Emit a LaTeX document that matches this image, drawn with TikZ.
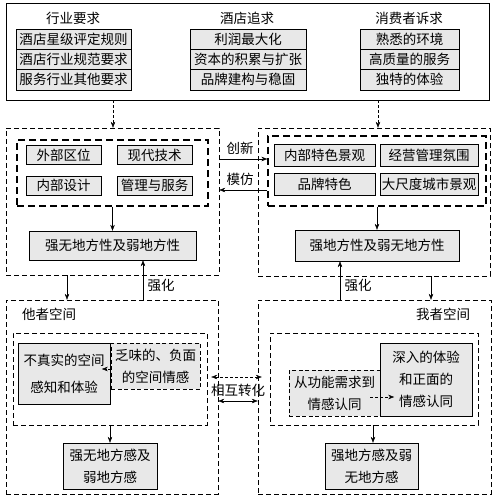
\documentclass[tikz,border=0pt]{standalone}
\usepackage{fontspec}
\setmainfont{Noto Sans CJK SC}
\usetikzlibrary{arrows.meta}

\begin{document}
\begin{tikzpicture}[x=1pt,y=1pt,font=\fontsize{13.5}{22}\selectfont,
      >={Stealth[length=6pt,width=4.5pt]},
      box/.style={draw,fill=black!9,inner sep=0pt,align=center},
      gbox/.style={draw,fill=black!9,inner sep=0pt,align=center,dash pattern=on 4pt off 2.5pt},
      frame/.style={draw,dash pattern=on 5pt off 3pt,inner sep=0pt},
      heavy/.style={draw,line width=1.3pt,dash pattern=on 7pt off 4pt,inner sep=0pt},
      lbl/.style={inner sep=0pt}]
    \useasboundingbox (0,0) rectangle (496,-497);
    % top block
    \node[draw,inner sep=0pt,minimum width=483,minimum height=97] (top) at (247.5,-51.5) {};
    \node[lbl] (t1) at (73,-18) {行业要求};
    \node[lbl] (t2) at (247,-18) {酒店追求};
    \node[lbl] (t3) at (409,-18) {消费者诉求};
    \node[box,minimum width=115,minimum height=20.3] (a1) at (73.5,-39) {酒店星级评定规则};
    \node[box,minimum width=115,minimum height=20.3] (a2) at (73.5,-59.3) {酒店行业规范要求};
    \node[box,minimum width=115,minimum height=20.3] (a3) at (73.5,-79.6) {服务行业其他要求};
    \node[box,minimum width=116,minimum height=20.3] (b1) at (248,-39) {利润最大化};
    \node[box,minimum width=116,minimum height=20.3] (b2) at (248,-59.3) {资本的积累与扩张};
    \node[box,minimum width=116,minimum height=20.3] (b3) at (248,-79.6) {品牌建构与稳固};
    \node[box,minimum width=99,minimum height=20.3] (c1) at (409.5,-39) {熟悉的环境};
    \node[box,minimum width=99,minimum height=20.3] (c2) at (409.5,-59.3) {高质量的服务};
    \node[box,minimum width=99,minimum height=20.3] (c3) at (409.5,-79.6) {独特的体验};
    % middle blocks
    \node[frame,minimum width=213,minimum height=147] (lmid) at (112.5,-201.5) {};
    \node[heavy,minimum width=191,minimum height=66] (lin) at (112.5,-173) {};
    \node[box,minimum width=75,minimum height=19] (l1) at (63.5,-155) {外部区位};
    \node[box,minimum width=75,minimum height=19] (l2) at (154.5,-155) {现代技术};
    \node[box,minimum width=75,minimum height=19] (l3) at (63.5,-185.5) {内部设计};
    \node[box,minimum width=75,minimum height=19] (l4) at (154.5,-185.5) {管理与服务};
    \node[box,minimum width=167,minimum height=29] (lstr) at (112.5,-245.5) {强无地方性及弱地方性};
    \node[frame,minimum width=232,minimum height=148] (rmid) at (374,-202) {};
    \node[heavy,minimum width=218,minimum height=70] (rin) at (377,-171) {};
    \node[box,minimum width=101,minimum height=22] (r1) at (324.5,-155) {内部特色景观};
    \node[box,minimum width=98,minimum height=22] (r2) at (429,-155) {经营管理氛围};
    \node[box,minimum width=101,minimum height=22] (r3) at (324.5,-184) {品牌特色};
    \node[box,minimum width=98,minimum height=22] (r4) at (429,-184) {大尺度城市景观};
    \node[box,minimum width=164,minimum height=31] (rstr) at (377,-245.5) {强地方性及弱无地方性};
    % bottom blocks
    \node[frame,minimum width=212,minimum height=194] (lbot) at (112,-397) {};
    \node[lbl] (lt) at (49,-314) {他者空间};
    \node[frame,minimum width=194,minimum height=92] (lbin) at (110,-379) {};
    \node[gbox,minimum width=89,minimum height=46] (nb) at (155.5,-366) {乏味的、负面\\的空间情感};
    \node[box,minimum width=92,minimum height=61] (na) at (64,-373.5) {不真实的空间\\[5pt]感知和体验};
    \node[box,minimum width=94,minimum height=46] (nc) at (110,-466) {强无地方感及\\弱地方感};
    \node[frame,minimum width=233,minimum height=194] (rbot) at (374.5,-397) {};
    \node[lbl] (rt) at (443,-314) {我者空间};
    \node[frame,minimum width=208,minimum height=92] (rbin) at (374,-379) {};
    \node[gbox,minimum width=91,minimum height=46] (pe) at (334.5,-393) {从功能需求到\\情感认同};
    \node[box,minimum width=92,minimum height=73] (pd) at (426,-379.5) {深入的体验\\和正面的\\情感认同};
    \node[box,minimum width=93,minimum height=46] (pf) at (371.5,-466) {强地方感及弱\\无地方感};
    % connectors
    \draw[->,dash pattern=on 3pt off 2pt] ([xshift=-134.5]top.south) -- ([xshift=-134.5]top.south |- lmid.north);
    \draw[->,dash pattern=on 3pt off 2pt] ([xshift=130.5]top.south) -- ([xshift=130.5]top.south |- rmid.north);
    \draw[->] (lin.south) -- (lstr.north);
    \draw[->] (rin.south) -- (rstr.north);
    \draw[->] ([yshift=42.5]lmid.east) -- ([yshift=12]rin.west);
    \draw[->] ([yshift=-19]rin.west) -- ([yshift=11.5]lmid.east);
    \node[lbl] (cx) at (240,-148) {创新};
    \node[lbl] (mf) at (240,-179) {模仿};
    \draw[->] ([xshift=-45.5]lmid.south) -- ([xshift=-45.5]lmid.south |- lbot.north);
    \draw[->] ([xshift=30.5]lstr.south |- lbot.north) -- ([xshift=30.5]lstr.south);
    \node[lbl] (q1) at (161,-285) {强化};
    \draw[->] ([xshift=-37]rstr.south |- rbot.north) -- ([xshift=-37]rstr.south);
    \node[lbl] (q2) at (358,-285) {强化};
    \draw[->] ([xshift=57]rmid.south) -- ([xshift=57]rmid.south |- rbot.north);
    \draw[->,dash pattern=on 3pt off 2pt] ([yshift=-3]nb.west) -- ([xshift=-9,yshift=-3]nb.west);
    \draw[->,dash pattern=on 3pt off 2pt] ([xshift=-10,yshift=-4]pe.east) -- ([xshift=14,yshift=-4]pe.east);
    \draw[->] (lbin.south) -- (nc.north);
    \draw[->] ([xshift=-1]rbin.south) -- ([xshift=-1]rbin.south |- pf.north);
    \draw[<->,dash pattern=on 3pt off 2pt] ([xshift=-7,yshift=20]lbot.east) -- ([xshift=4,yshift=20]rbot.west);
    \draw[<->] ([yshift=-4]lbot.east) -- ([yshift=-4]rbot.west);
    \node[lbl] (hx) at (238,-390) {相互转化};
\end{tikzpicture}
\end{document}
